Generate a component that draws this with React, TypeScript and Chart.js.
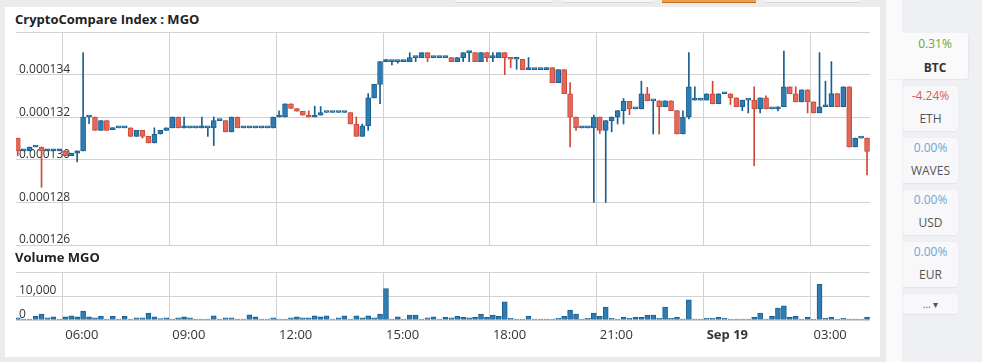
import React, { useEffect, useRef } from "react";
import { Chart, registerables } from "chart.js";

Chart.register(...registerables);

// Candles: 10-minute intervals, first one opens Sep 18 04:40 (minutes from Sep 18 00:00)
const START_MIN = 280;
const STEP_MIN = 10;

// Prices in millionths (value x 1e-6)
const OPEN = [
  131.02, 130.42, 130.42, 130.6, 130.6, 130.42, 130.42, 130.42, 130.42, 130.19, 130.31, 130.42,
  132.01, 132.01, 131.38, 131.84, 131.42, 131.5, 131.5, 131.5, 131.1, 131.38, 131.1, 130.79,
  131.21, 131.38, 131.5, 132.01, 131.5, 131.5, 131.5, 131.5, 131.5, 131.5, 131.84, 131.84,
  131.31, 132.01, 131.5, 131.5, 131.5, 131.5, 131.5, 131.5, 132.01, 132.01, 132.63, 132.41,
  132.28, 132.09, 132.01, 132.1, 132.22, 132.22, 132.22, 132.22, 132.22, 131.68, 131.1, 131.6,
  132.91, 133.54, 134.61, 134.61, 134.61, 134.61, 134.61, 134.8, 134.8, 135.03, 134.8, 134.8,
  134.8, 134.8, 134.61, 134.8, 135.03, 135.03, 134.61, 135.03, 134.8, 134.8, 135.03, 134.8,
  134.72, 134.72, 134.23, 134.23, 134.23, 134.23, 134.33, 133.62, 134.23, 133.1, 132.0, 131.5,
  131.5, 131.5, 132.01, 131.38, 131.84, 132.01, 132.31, 132.74, 132.39, 132.39, 133.1, 132.77,
  132.77, 132.49, 132.77, 132.31, 131.21, 132.01, 132.8, 132.8, 132.8, 133.1, 132.63, 133.1,
  133.1, 132.91, 132.49, 132.8, 132.8, 132.39, 132.91, 132.39, 132.39, 132.49, 133.43, 133.1,
  132.72, 133.29, 132.72, 132.2, 132.49, 132.49, 133.11, 132.49, 133.43, 130.6, 131.02, 131.02,
];
const HIGH = [
  131.02, 130.42, 130.6, 130.6, 130.6, 130.42, 130.42, 130.42, 130.42, 130.31, 130.42, 135.03,
  132.01, 132.01, 131.84, 131.84, 131.5, 131.5, 131.5, 131.5, 131.38, 131.38, 131.1, 131.5,
  131.38, 131.5, 132.01, 132.01, 132.01, 131.5, 131.5, 132.01, 131.5, 132.01, 131.84, 131.84,
  132.01, 132.01, 131.5, 131.5, 131.5, 131.5, 131.5, 132.01, 132.3, 132.63, 132.63, 132.41,
  132.28, 132.3, 132.52, 132.5, 132.22, 132.22, 132.22, 132.22, 132.22, 132.01, 131.68, 133.11,
  133.54, 134.61, 134.72, 134.61, 134.61, 134.61, 135.03, 134.8, 135.03, 135.03, 134.8, 134.8,
  134.8, 134.8, 134.8, 135.03, 135.03, 135.03, 135.03, 135.03, 135.03, 135.03, 135.03, 134.8,
  134.72, 134.72, 134.8, 134.23, 134.23, 134.33, 134.33, 134.23, 134.23, 133.62, 132.0, 131.5,
  131.5, 132.1, 132.01, 131.84, 132.01, 132.31, 132.88, 132.74, 132.39, 133.69, 133.4, 132.77,
  132.77, 132.77, 132.77, 132.31, 132.3, 135.03, 133.43, 132.8, 133.1, 133.69, 133.1, 133.1,
  133.1, 132.91, 132.8, 132.8, 133.43, 132.91, 133.0, 132.39, 132.49, 135.11, 133.43, 133.43,
  133.29, 133.29, 132.72, 135.03, 133.69, 134.61, 133.11, 133.43, 133.43, 131.02, 131.02, 131.02,
];
const LOW = [
  130.19, 130.42, 130.42, 130.6, 128.71, 130.42, 130.42, 130.42, 130.19, 130.19, 129.9, 130.42,
  131.7, 131.38, 131.38, 131.38, 131.42, 131.5, 131.5, 131.1, 131.1, 131.02, 130.79, 130.79,
  131.21, 131.38, 131.5, 131.5, 131.5, 131.5, 131.5, 131.5, 131.1, 130.67, 131.84, 131.31,
  131.31, 131.5, 131.5, 131.5, 131.5, 131.5, 131.5, 131.5, 132.01, 132.01, 132.41, 132.28,
  132.09, 132.01, 132.01, 132.1, 132.22, 132.22, 132.22, 132.22, 131.68, 131.1, 131.1, 131.38,
  132.91, 132.63, 134.61, 134.46, 134.54, 134.61, 134.61, 134.61, 134.8, 134.61, 134.8, 134.8,
  134.8, 134.61, 134.61, 134.61, 134.61, 134.61, 134.61, 134.61, 134.61, 134.8, 134.0, 134.33,
  134.25, 134.23, 134.23, 134.23, 134.23, 134.23, 133.62, 133.62, 133.1, 130.6, 131.38, 131.5,
  131.5, 128.0, 131.23, 128.0, 131.31, 131.68, 131.68, 132.12, 132.39, 132.39, 132.77, 131.21,
  131.21, 132.49, 132.31, 131.21, 131.21, 131.92, 132.8, 132.8, 132.8, 132.63, 132.63, 133.1,
  132.6, 132.49, 132.3, 132.2, 129.72, 132.2, 132.39, 132.39, 132.3, 132.49, 133.1, 132.72,
  132.72, 132.2, 132.2, 132.2, 132.49, 132.49, 132.49, 132.49, 130.6, 130.6, 131.02, 129.29,
];
const CLOSE = [
  130.42, 130.42, 130.6, 130.6, 130.42, 130.42, 130.42, 130.42, 130.19, 130.31, 130.42, 132.01,
  132.01, 131.38, 131.84, 131.38, 131.5, 131.5, 131.5, 131.1, 131.38, 131.1, 130.79, 131.21,
  131.38, 131.5, 132.01, 131.5, 131.5, 131.5, 131.5, 131.5, 131.5, 131.84, 131.84, 131.31,
  132.01, 131.5, 131.5, 131.5, 131.5, 131.5, 131.5, 132.01, 132.01, 132.63, 132.41, 132.28,
  132.09, 132.01, 132.1, 132.22, 132.22, 132.22, 132.22, 132.22, 131.68, 131.1, 131.6, 132.91,
  133.54, 134.61, 134.61, 134.61, 134.61, 134.61, 134.8, 134.8, 135.03, 134.8, 134.8, 134.8,
  134.8, 134.61, 134.8, 135.03, 135.03, 134.61, 135.03, 134.8, 134.8, 135.03, 134.8, 134.72,
  134.72, 134.23, 134.23, 134.23, 134.23, 134.33, 133.62, 134.23, 133.1, 132.0, 131.5, 131.5,
  131.5, 132.01, 131.38, 131.84, 132.01, 132.31, 132.74, 132.39, 132.39, 133.1, 132.77, 132.77,
  132.49, 132.77, 132.31, 131.21, 132.01, 133.43, 132.8, 132.8, 133.1, 132.63, 133.1, 133.1,
  132.91, 132.49, 132.8, 132.8, 132.39, 132.91, 132.39, 132.39, 132.49, 133.43, 133.1, 132.72,
  133.29, 132.72, 132.2, 132.49, 132.49, 133.11, 132.49, 133.43, 130.6, 131.02, 131.02, 130.39,
];
const VOLUME = [
  860, 200, 300, 1570, 2430, 860, 1290, 300, 1290, 1710, 1290, 3710,
  1290, 860, 1570, 200, 1570, 150, 1570, 150, 860, 860, 2860, 1290,
  570, 860, 300, 860, 1290, 860, 150, 430, 430, 1710, 150, 860,
  860, 150, 150, 2140, 1290, 200, 430, 860, 430, 150, 860, 1290,
  860, 860, 1710, 1290, 1710, 150, 860, 1710, 150, 1710, 860, 1710,
  860, 2430, 13140, 150, 1290, 150, 2000, 2000, 150, 860, 1290, 150,
  1140, 860, 1570, 1140, 860, 1140, 2430, 1140, 2000, 1570, 7570, 710,
  150, 150, 1570, 150, 150, 150, 150, 710, 1570, 4140, 2430, 150,
  710, 2860, 1570, 5430, 710, 150, 1140, 710, 1140, 1140, 2000, 2000,
  710, 5430, 710, 1140, 150, 8430, 150, 150, 710, 710, 1140, 710,
  150, 150, 150, 150, 1140, 2860, 150, 1570, 5000, 5860, 1140, 1570,
  150, 1140, 150, 14860, 710, 1140, 150, 710, 290, 150, 150, 1140,
];

const X_TICKS = [360, 540, 720, 900, 1080, 1260, 1440, 1620];
const X_LABELS = ["06:00", "09:00", "12:00", "15:00", "18:00", "21:00", "Sep 19", "03:00"];
const PRICE_TICKS = [126, 128, 130, 132, 134, 136];
const VOLUME_TICKS = [0, 10000, 20000];

const SIDE_ITEMS = [
  { change: "-4.24%", name: "ETH", color: "#cf6159" },
  { change: "0.00%", name: "WAVES", color: "#6ea6d3" },
  { change: "0.00%", name: "USD", color: "#6ea6d3" },
  { change: "0.00%", name: "EUR", color: "#6ea6d3" },
];

const X_MIN = 282;
const X_MAX = 1720;
const GRID = "#d2d2d2";
const FONT = "'Open Sans', sans-serif";
const UP_FILL = "#2e7db2";
const UP_LINE = "#1a5f91";
const DOWN_FILL = "#e0695b";
const DOWN_LINE = "#cf4737";

const fitY = (s: any) => {
  s.width = 0;
  s.paddingTop = 0;
  s.paddingBottom = 0;
};

export default function App() {
  const priceRef = useRef<HTMLCanvasElement | null>(null);
  const volRef = useRef<HTMLCanvasElement | null>(null);

  useEffect(() => {
    document.body.style.margin = "0";
    const times = OPEN.map((_, i) => START_MIN + STEP_MIN * i + STEP_MIN / 2);
    const up = OPEN.map((o, i) => CLOSE[i] >= o);

    const xBase: any = {
      type: "linear",
      min: X_MIN,
      max: X_MAX,
      offset: false,
      grid: { color: GRID, drawTicks: false, offset: false },
      border: { display: false },
      afterBuildTicks: (s: any) => {
        s.ticks = X_TICKS.map((v) => ({ value: v }));
      },
    };

    const price = new Chart(priceRef.current!, {
      type: "bar",
      data: {
        datasets: [
          {
            data: times.map((t, i) => ({ x: t, y: [OPEN[i], CLOSE[i]] })) as any,
            backgroundColor: up.map((u) => (u ? UP_FILL : DOWN_FILL)),
            borderColor: up.map((u) => (u ? UP_LINE : DOWN_LINE)),
            borderWidth: 1,
            borderSkipped: false,
            barThickness: 5,
            minBarLength: 2,
            grouped: false,
          } as any,
          {
            data: times.map((t, i) => ({ x: t, y: [LOW[i], HIGH[i]] })) as any,
            backgroundColor: up.map((u) => (u ? UP_LINE : DOWN_LINE)),
            borderWidth: 0,
            barThickness: 1,
            grouped: false,
          } as any,
        ],
      },
      options: {
        animation: false,
        responsive: false,
        maintainAspectRatio: false,
        layout: { padding: { left: 16, right: 10, top: 4, bottom: 5 } },
        plugins: { legend: { display: false }, tooltip: { enabled: false } },
        scales: {
          x: {
            ...xBase,
            ticks: { display: false },
            afterFit: (s: any) => {
              s.height = 0;
              s.paddingLeft = 0;
              s.paddingRight = 0;
            },
          },
          y: {
            min: 126,
            max: 136,
            grid: { color: GRID, drawTicks: false },
            border: { display: false },
            afterFit: fitY,
            afterBuildTicks: (s: any) => {
              s.ticks = PRICE_TICKS.map((v) => ({ value: v }));
            },
            ticks: {
              mirror: true,
              padding: 3,
              labelOffset: -5,
              color: "#333",
              font: { family: FONT, size: 12 },
              callback: (v: any) => (v >= 136 ? "" : (Number(v) * 1e-6).toFixed(6)),
            },
          },
        } as any,
      },
    });

    const vol = new Chart(volRef.current!, {
      type: "bar",
      data: {
        datasets: [
          {
            data: times.map((t, i) => ({ x: t, y: VOLUME[i] })) as any,
            backgroundColor: UP_FILL,
            borderColor: UP_LINE,
            borderWidth: 1,
            borderSkipped: false,
            barThickness: 5,
            minBarLength: 1,
          } as any,
        ],
      },
      options: {
        animation: false,
        responsive: false,
        maintainAspectRatio: false,
        layout: { padding: { left: 16, right: 10, top: 22, bottom: 7 } },
        plugins: { legend: { display: false }, tooltip: { enabled: false } },
        scales: {
          x: {
            ...xBase,
            afterFit: (s: any) => {
              s.height = 30;
              s.paddingLeft = 0;
              s.paddingRight = 0;
            },
            ticks: {
              autoSkip: false,
              maxRotation: 0,
              align: "start",
              labelOffset: 3,
              padding: 7,
              color: "#333",
              font: (ctx: any) => ({
                family: FONT,
                size: 13,
                weight: ctx.tick && ctx.tick.value === 1440 ? "bold" : "normal",
              }),
              callback: (v: any) => {
                const idx = X_TICKS.indexOf(Number(v));
                return idx >= 0 ? X_LABELS[idx] : "";
              },
            },
          },
          y: {
            min: 0,
            max: 20000,
            grid: { color: GRID, drawTicks: false },
            border: { display: false },
            afterFit: fitY,
            afterBuildTicks: (s: any) => {
              s.ticks = VOLUME_TICKS.map((v) => ({ value: v }));
            },
            ticks: {
              mirror: true,
              padding: 3,
              labelOffset: -5,
              color: "#333",
              font: { family: FONT, size: 12 },
              callback: (v: any) => (v >= 20000 ? "" : Number(v).toLocaleString("en-US")),
            },
          },
        } as any,
      },
    });

    return () => {
      price.destroy();
      vol.destroy();
    };
  }, []);

  const abs = (s: React.CSSProperties): React.CSSProperties => ({ position: "absolute", ...s });

  return (
    <div
      style={{
        position: "relative",
        width: 982,
        height: 362,
        background: "#ebebeb",
        overflow: "hidden",
        fontFamily: FONT,
      }}
    >
      {/* top tabs slivers */}
      <div style={abs({ left: 455, top: 0, width: 98, height: 2, background: "#f5f5f5", borderBottom: "1px solid #d6d6d6" })} />
      <div style={abs({ left: 563, top: 0, width: 90, height: 2, background: "#f5f5f5", borderBottom: "1px solid #d6d6d6" })} />
      <div style={abs({ left: 662, top: 0, width: 94, height: 2, background: "#e9a04c", borderBottom: "1px solid #c8701d" })} />
      <div style={abs({ left: 765, top: 0, width: 95, height: 2, background: "#f5f5f5", borderBottom: "1px solid #d6d6d6" })} />

      {/* card */}
      <div style={abs({ left: 5, top: 7, width: 875, height: 350, background: "#ffffff" })} />
      <div style={abs({ left: 15, top: 10, fontSize: 13, fontWeight: 700, lineHeight: "18px", color: "#222", whiteSpace: "nowrap" })}>
        CryptoCompare Index : MGO
      </div>
      <canvas ref={priceRef} width={880} height={222} style={abs({ left: 0, top: 28, width: 880, height: 222 })} />
      <div style={abs({ left: 15, top: 248, fontSize: 13, fontWeight: 700, lineHeight: "18px", color: "#222", whiteSpace: "nowrap" })}>
        Volume MGO
      </div>
      <canvas ref={volRef} width={880} height={107} style={abs({ left: 0, top: 250, width: 880, height: 107 })} />

      {/* right panel */}
      <div style={abs({ left: 886, top: 0, width: 16, height: 362, background: "#fafafa" })} />
      <div style={abs({ left: 902, top: 0, width: 80, height: 362, background: "#eff0f4" })} />
      <div
        style={abs({
          left: 887,
          top: 33,
          width: 81,
          height: 46,
          background: "#fafafa",
          borderRadius: "0 3px 3px 0",
          boxShadow: "1px 1px 1px rgba(0,0,0,0.04)",
        })}
      />
      <div style={abs({ left: 902, top: 35, width: 66, textAlign: "center", fontSize: 12, lineHeight: "18px", color: "#63a83f" })}>0.31%</div>
      <div style={abs({ left: 902, top: 59, width: 66, textAlign: "center", fontSize: 12, lineHeight: "18px", fontWeight: 700, color: "#333" })}>BTC</div>
      {SIDE_ITEMS.map((it, i) => (
        <React.Fragment key={it.name}>
          <div
            style={abs({
              left: 903,
              top: 86 + i * 52,
              width: 55,
              height: 45,
              background: "#f8f8fa",
              borderRadius: 3,
              boxShadow: "0 1px 1px rgba(0,0,0,0.05)",
            })}
          />
          <div style={abs({ left: 903, top: 87 + i * 52, width: 55, textAlign: "center", fontSize: 12, lineHeight: "18px", color: it.color })}>
            {it.change}
          </div>
          <div style={abs({ left: 903, top: 110 + i * 52, width: 55, textAlign: "center", fontSize: 12, lineHeight: "18px", color: "#555" })}>
            {it.name}
          </div>
        </React.Fragment>
      ))}
      <div
        style={abs({
          left: 903,
          top: 294,
          width: 55,
          height: 20,
          background: "#f8f8fa",
          borderRadius: 3,
          boxShadow: "0 1px 1px rgba(0,0,0,0.05)",
        })}
      />
      <div style={abs({ left: 903, top: 295, width: 55, textAlign: "center", fontSize: 10, lineHeight: "18px", color: "#555" })}>
        ... ▾
      </div>
    </div>
  );
}
